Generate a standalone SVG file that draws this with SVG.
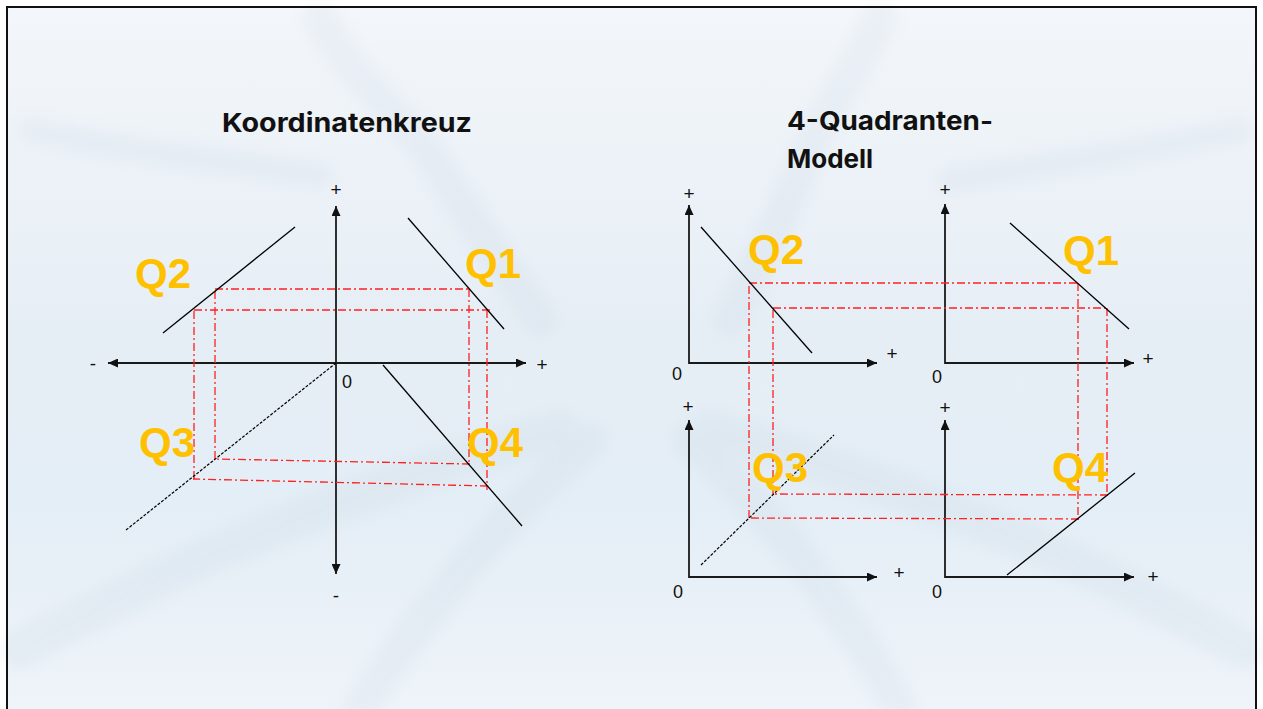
<svg xmlns="http://www.w3.org/2000/svg" width="1263" height="709" viewBox="0 0 1263 709">
  <defs>
    <linearGradient id="bg" x1="0" y1="0" x2="0" y2="1">
      <stop offset="0" stop-color="#f3f6fa"/>
      <stop offset="0.45" stop-color="#e6eef5"/>
      <stop offset="0.7" stop-color="#e4eef6"/>
      <stop offset="1" stop-color="#eff4f9"/>
    </linearGradient>
    <filter id="blur" x="-20%" y="-20%" width="140%" height="140%">
      <feGaussianBlur stdDeviation="7"/>
    </filter>
    <marker id="arr" markerUnits="userSpaceOnUse" markerWidth="11" markerHeight="9" refX="10" refY="4.5" orient="auto-start-reverse">
      <path d="M0,0 L10,4.5 L0,9 Z" fill="#111"/>
    </marker>
    <style>
      .axis{stroke:#1a1a1a;stroke-width:1.8;fill:none;marker-start:url(#arr);marker-end:url(#arr)}
      .ln{stroke:#000;stroke-width:1.3;fill:none}
      .dl{stroke:#000;stroke-width:1.2;fill:none;stroke-dasharray:3 1.5}
      .red{stroke:#ff2020;stroke-width:1.3;fill:none;stroke-dasharray:8 3 2 3}
      .sg{font-family:"Liberation Sans",Arial,sans-serif;font-size:19px;fill:#111;text-anchor:middle}
      .zero{font-family:"Liberation Sans",Arial,sans-serif;font-size:18px;fill:#111;text-anchor:middle}
      .q{font-family:"Liberation Sans",Arial,sans-serif;font-size:42px;font-weight:bold;fill:#ffc000}
      .title{font-family:Inter,"Liberation Sans",Arial,sans-serif;font-size:26px;font-weight:bold;fill:#111}
      .streak{stroke:#b4c6d6;fill:none;stroke-linecap:round}
    </style>
  </defs>

  <rect x="0" y="0" width="1263" height="709" fill="#ffffff"/>
  <rect x="7" y="7" width="1249" height="710" fill="url(#bg)"/>

  <g id="background" opacity="0.13" filter="url(#blur)">
    <path class="streak" stroke-width="34" d="M320,20 C360,90 410,120 440,170 C470,220 500,260 540,320"/>
    <path class="streak" stroke-width="34" d="M880,20 C850,80 820,120 800,170 C780,220 760,260 730,320"/>
    <path class="streak" stroke-width="26" d="M30,130 C120,150 220,160 320,175"/>
    <path class="streak" stroke-width="26" d="M1240,130 C1150,150 1040,165 950,180"/>
    <path class="streak" stroke-width="40" d="M20,650 C180,560 380,480 560,430"/>
    <path class="streak" stroke-width="36" d="M360,709 C430,600 520,500 590,440"/>
    <path class="streak" stroke-width="40" d="M1245,650 C1090,560 890,480 710,430"/>
    <path class="streak" stroke-width="36" d="M900,709 C840,600 760,500 690,440"/>
  </g>

  <rect x="7" y="7" width="1249" height="710" fill="none" stroke="#111" stroke-width="2"/>

  <g id="title-left"><text class="title" x="222" y="132" textLength="250" lengthAdjust="spacingAndGlyphs">Koordinatenkreuz</text></g>
  <g id="title-right">
    <text class="title" x="787" y="130" textLength="206" lengthAdjust="spacingAndGlyphs">4-Quadranten-</text>
    <text class="title" x="787" y="168">Modell</text>
  </g>

  <g id="connectors">
    <line class="axis" x1="336" y1="206" x2="336" y2="574"/>
    <line class="axis" x1="108" y1="363" x2="526" y2="363"/>
    <path class="axis" d="M689,205 V363 H877"/>
    <path class="axis" d="M945,204 V363 H1134"/>
    <path class="axis" d="M689,420 V577 H877"/>
    <path class="axis" d="M945,420 V577 H1134"/>
    <path class="red" d="M215,289 H470 M469,289 V465 M470,464 L215,459 M215,459 V289"/>
    <path class="red" d="M194,310 H493 M487,310 V490 M488,486 L193,479 M194,479 V310"/>
    <path class="red" d="M749,283 H1079 M1078,283 V520 M1079,519 L749,518 M749,518 V283"/>
    <path class="red" d="M773,308 H1108 M1107,308 V496 M1108,495 L773,494 M773,494 V308"/>
  </g>

  <g id="left-Q1"><line class="ln" x1="408" y1="218" x2="504" y2="329"/><text class="q" x="465" y="278">Q1</text></g>
  <g id="left-Q2"><line class="ln" x1="163" y1="333" x2="295" y2="227"/><text class="q" x="135" y="288">Q2</text></g>
  <g id="left-Q3"><line class="dl" x1="126" y1="530" x2="336" y2="363"/><text class="q" x="139" y="457">Q3</text></g>
  <g id="left-Q4"><line class="ln" x1="383" y1="365" x2="522" y2="526"/><text class="q" x="467" y="457">Q4</text></g>

  <g id="left-labels">
    <text class="sg" x="336" y="196">+</text>
    <text class="sg" x="336" y="602">-</text>
    <text class="sg" x="93" y="370">-</text>
    <text class="sg" x="542" y="371">+</text>
    <text class="zero" x="347" y="388">0</text>
  </g>

  <g id="right-Q2">
    <line class="ln" x1="701" y1="227" x2="812" y2="353"/>
    <text class="q" x="748" y="264">Q2</text>
    <text class="sg" x="689" y="200">+</text>
    <text class="sg" x="892" y="360">+</text>
    <text class="zero" x="677" y="380">0</text>
  </g>
  <g id="right-Q1">
    <line class="ln" x1="1010" y1="223" x2="1129" y2="329"/>
    <text class="q" x="1063" y="265">Q1</text>
    <text class="sg" x="945" y="196">+</text>
    <text class="sg" x="1148" y="365">+</text>
    <text class="zero" x="937" y="383">0</text>
  </g>
  <g id="right-Q3">
    <line class="dl" x1="701" y1="565" x2="834" y2="435"/>
    <text class="q" x="752" y="482">Q3</text>
    <text class="sg" x="688" y="413">+</text>
    <text class="sg" x="899" y="579">+</text>
    <text class="zero" x="678" y="598">0</text>
  </g>
  <g id="right-Q4">
    <line class="ln" x1="1007" y1="575" x2="1135" y2="473"/>
    <text class="q" x="1052" y="482">Q4</text>
    <text class="sg" x="945" y="414">+</text>
    <text class="sg" x="1153" y="583">+</text>
    <text class="zero" x="937" y="598">0</text>
  </g>
</svg>
